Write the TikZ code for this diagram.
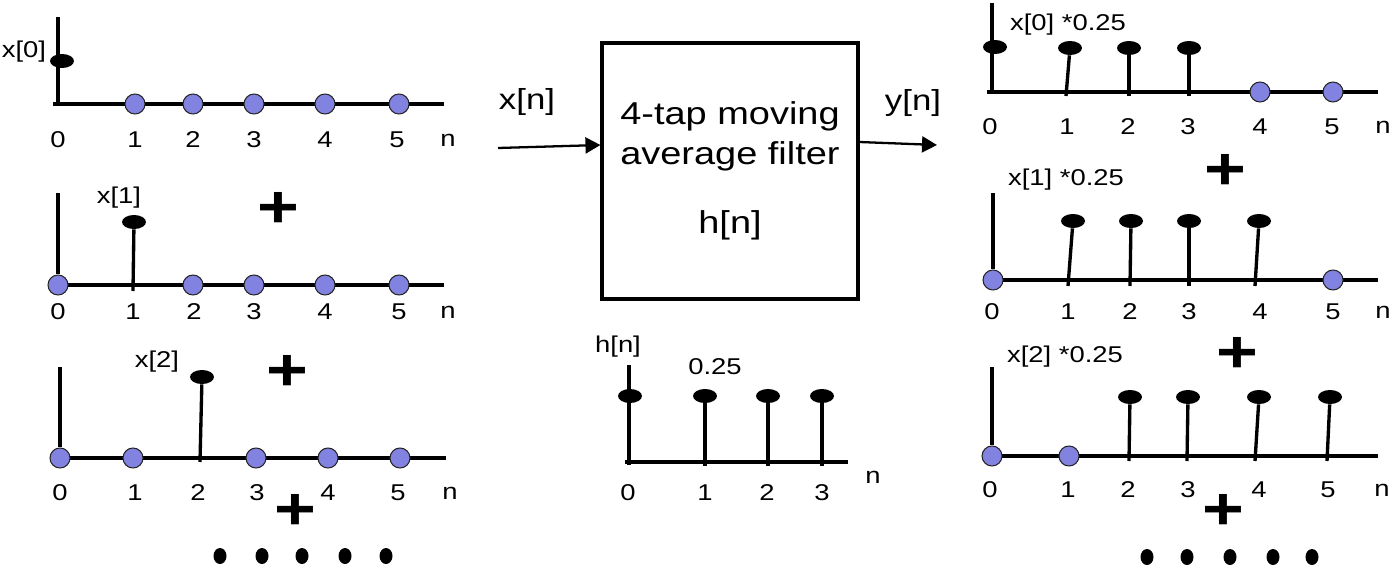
\documentclass[tikz,border=0pt]{standalone}
\usepackage{fontspec}
\setmainfont[FakeStretch=1.2]{Liberation Sans}
\usetikzlibrary{arrows.meta,shapes.geometric}

\definecolor{zeroblue}{RGB}{130,130,225}

\begin{document}
\begin{tikzpicture}[
    x=0.02cm, y=-0.02cm,
    every node/.style={
        inner sep=0pt
    },
    tick/.style={
        font=\fontsize{13}{15}\selectfont
    },
    lbl/.style={
        font=\fontsize{13}{15}\selectfont
    },
    sig/.style={
        font=\fontsize{16.5}{19}\selectfont
    },
    plus/.style={
        font=\fontsize{34}{34}\selectfont\bfseries
    },
    filterbox/.style={
        draw=black,
        line width=1.8pt,
        minimum width=5.12cm,
        minimum height=5.12cm,
        align=center,
        font=\fontsize{18}{22.7}\selectfont
    },
    head/.style={
        ellipse,
        fill=black,
        minimum width=0.48cm,
        minimum height=0.28cm
    },
    zero/.style={
        circle,
        draw=black!85,
        fill=zeroblue,
        line width=0.6pt,
        minimum size=0.4cm
    },
    axis/.style={
        line width=1.9pt
    },
    stem/.style={
        line width=1.9pt
    },
    signal/.style={
        -{Triangle[length=3mm,width=3.2mm]},
        line width=1.3pt
    }
]
\useasboundingbox (0,0) rectangle (1392,571);

% ============================================================
% Input sample x[0]
% ============================================================

\draw[axis] (58,17) -- (58,104);
\draw[axis] (53,104) -- (444,104);

\node[head] (ahead0) at (62,61) {};

\foreach \x [count=\i] in {135,193,254,325,399}
    \node[zero] (azero\i) at (\x,104) {};

\foreach \x/\t in {58/0,135/1,193/2,254/3,325/4,397/5,448/n}
    \node[tick] (atick\t) at (\x,140) {\t};

\node[lbl] (alabel) at (24,52) {x[0]};

% ============================================================
% Input sample x[1]
% ============================================================

\draw[axis] (53,285) -- (444,285);

\node[zero] (bzero0) at (58,285) {};
\draw[axis] (58,193) -- (bzero0);

\node[head] (bhead1) at (134,222) {};
\draw[stem] (133,291) -- (bhead1);

\foreach \x [count=\i from 2] in {193,254,325,399}
    \node[zero] (bzero\i) at (\x,285) {};

\foreach \x/\t in {58/0,133/1,194/2,254/3,325/4,399/5,448/n}
    \node[tick] (btick\t) at (\x,312) {\t};

\node[lbl] (blabel) at (119,198) {x[1]};
\node[plus] (bplus) at (278,210) {+};

% ============================================================
% Input sample x[2]
% ============================================================

\draw[axis] (55,458) -- (446,458);

\node[zero] (czero0) at (60,458) {};
\draw[axis] (60,367) -- (czero0);

\node[zero] (czero1) at (133,458) {};

\node[head] (chead2) at (202,377) {};
\draw[stem] (200,462) -- (chead2);

\foreach \x [count=\i from 3] in {256,328,400}
    \node[zero] (czero\i) at (\x,458) {};

\foreach \x/\t in {60/0,135/1,198/2,257/3,328/4,398/5,450/n}
    \node[tick] (ctick\t) at (\x,493) {\t};

\node[lbl] (clabel) at (157,362) {x[2]};
\node[plus] (cplus) at (287,373) {+};
\node[plus] (cplusb) at (295,512) {+};

\foreach \x in {220,262,302,345,386}
    \fill (\x,556) ellipse [x radius=6.5, y radius=8];

% ============================================================
% Filter block
% ============================================================

\node[filterbox] (filter) at (730,171)
{4-tap moving\\
average filter\\[17pt]
h[n]};

\coordinate (xin) at (498,148);
\coordinate (yout) at (937,145);

\draw[signal] (xin) -- (filter.west |- 0,145);
\draw[signal] (filter.east |- 0,142) -- (yout);

\node[sig] (xlabel) at (527,102) {x[n]};
\node[sig] (ylabel) at (913,103) {y[n]};

% ============================================================
% Impulse response h[n]
% ============================================================

\draw[axis] (625,462) -- (848,462);
\draw[axis] (629,365) -- (629,465);

\node[head] (hhead0) at (630,396) {};

\foreach \x [count=\i] in {705,768,822} {
    \node[head] (hhead\i) at (\x,396) {};
    \draw[stem] (\x,466) -- (hhead\i);
}

\foreach \x/\t in {628/0,705/1,767/2,822/3}
    \node[tick] (htick\t) at (\x,493) {\t};

\node[tick] (htickn) at (873,477) {n};
\node[lbl] (hlabel) at (618,347) {h[n]};
\node[lbl] (hvalue) at (715,367) {0.25};

% ============================================================
% Output x[0]*0.25
% ============================================================

\draw[axis] (987,92) -- (1378,92);
\draw[axis] (992,3) -- (992,92);

\node[head] (dhead0) at (995,47) {};

\foreach \b/\x/\i in {1066/1070/1,1129/1129/2,1189/1189/3} {
    \node[head] (dhead\i) at (\x,48) {};
    \draw[stem] (\b,96) -- (dhead\i);
}

\node[zero] (dzero4) at (1260,92) {};
\node[zero] (dzero5) at (1333,92) {};

\foreach \x/\t in {990/0,1067/1,1128/2,1188/3,1260/4,1332/5,1383/n}
    \node[tick] (dtick\t) at (\x,127) {\t};

\node[lbl] (dlabel) at (1068,25) {x[0] *0.25};

% ============================================================
% Output x[1]*0.25
% ============================================================

\draw[axis] (988,280) -- (1378,280);

\node[zero] (ezero0) at (993,280) {};
\draw[axis] (993,193) -- (ezero0);

\foreach \b/\x/\i in {1068/1073/1,1130/1131/2,1189/1189/3,1255/1259/4} {
    \node[head] (ehead\i) at (\x,221) {};
    \draw[stem] (\b,286) -- (ehead\i);
}

\node[zero] (ezero5) at (1333,280) {};

\foreach \x/\t in {992/0,1068/1,1130/2,1189/3,1260/4,1333/5,1383/n}
    \node[tick] (etick\t) at (\x,312) {\t};

\node[lbl] (elabel) at (1066,180) {x[1] *0.25};
\node[plus] (eplus) at (1225,172) {+};

% ============================================================
% Output x[2]*0.25
% ============================================================

\draw[axis] (987,456) -- (1378,456);

\node[zero] (fzero0) at (992,456) {};
\draw[axis] (992,367) -- (fzero0);

\node[zero] (fzero1) at (1069,456) {};

\foreach \b/\x/\i in {1129/1130/2,1187/1188/3,1255/1259/4,1327/1330/5} {
    \node[head] (fhead\i) at (\x,397) {};
    \draw[stem] (\b,461) -- (fhead\i);
}

\foreach \x/\t in {990/0,1068/1,1128/2,1188/3,1259/4,1328/5,1382/n}
    \node[tick] (ftick\t) at (\x,490) {\t};

\node[lbl] (flabel) at (1065,357) {x[2] *0.25};
\node[plus] (fplus) at (1237,355) {+};
\node[plus] (fplusb) at (1223,512) {+};

\foreach \x in {1147,1187,1230,1273,1312}
    \fill (\x,557) ellipse [x radius=6.5, y radius=8];

\end{tikzpicture}
\end{document}
